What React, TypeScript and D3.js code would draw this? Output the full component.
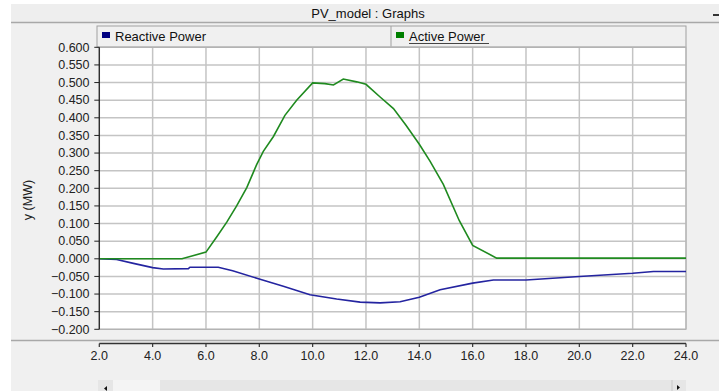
import React from 'react';
import * as d3 from 'd3';

// time axis (h) and power readings (MW)
const activeT = [2.0, 5.1, 6.0, 6.4, 6.78, 7.15, 7.53, 7.9, 8.15, 8.53, 8.96, 9.4, 10.0, 10.46, 10.78, 11.15, 11.65, 12.0, 12.53, 13.03, 13.5, 14.0, 14.4, 14.9, 15.5, 16.0, 16.9, 24.0];
const activeP = [0.0, 0.0, 0.019, 0.062, 0.104, 0.15, 0.202, 0.267, 0.305, 0.347, 0.407, 0.45, 0.499, 0.497, 0.493, 0.51, 0.502, 0.495, 0.459, 0.426, 0.379, 0.325, 0.277, 0.211, 0.108, 0.038, 0.002, 0.002];

const reactiveT = [2.0, 2.65, 3.28, 4.0, 4.4, 5.34, 5.4, 6.46, 7.0, 8.03, 8.9, 9.9, 10.9, 11.78, 12.53, 13.28, 14.0, 14.78, 16.0, 16.78, 18.0, 20.0, 22.0, 22.78, 24.0];
const reactiveP = [0.0, -0.002, -0.013, -0.025, -0.029, -0.028, -0.024, -0.024, -0.034, -0.058, -0.078, -0.102, -0.114, -0.123, -0.125, -0.122, -0.109, -0.088, -0.069, -0.06, -0.06, -0.05, -0.041, -0.036, -0.036];

const xTicks = d3.range(2, 24.001, 2);
const yTicks = d3.range(-0.2, 0.6001, 0.05);
const legendNames = ['Reactive Power', 'Active Power'];

const font = '"Liberation Sans", Arial, sans-serif';

export default function App() {
  const W = 719;
  const H = 391;
  const plot = { left: 99.3, right: 686, top: 47.3, bottom: 329.3 };

  const x = d3.scaleLinear().domain([2, 24]).range([plot.left, plot.right]);
  const y = d3.scaleLinear().domain([-0.2, 0.6]).range([plot.bottom, plot.top]);

  const line = d3
    .line<[number, number]>()
    .x((d) => x(d[0]))
    .y((d) => y(d[1]));

  const active = activeT.map((t, i) => [t, activeP[i]] as [number, number]);
  const reactive = reactiveT.map((t, i) => [t, reactiveP[i]] as [number, number]);

  const axisY = 343.5;

  return (
    <>
      <style>{'body{margin:0;overflow:hidden}'}</style>
      <svg width={W} height={H} style={{ display: 'block', fontFamily: font }}>
        <rect width={W} height={H} fill="#ffffff" />
        {/* panel */}
        <rect x={11} y={4} width={W - 11} height={H - 4} fill="#f0f0f0" />
        {/* title bar */}
        <rect x={11} y={4} width={W - 11} height={18} fill="#eeeeee" />
        <line x1={11} x2={W} y1={22.5} y2={22.5} stroke="#a8a8a8" strokeWidth={1.5} />
        <text x={368} y={17.5} textAnchor="middle" fontSize={13} fill="#111">
          PV_model : Graphs
        </text>
        <line x1={713} x2={719} y1={15} y2={15} stroke="#333" strokeWidth={2} />

        {/* legend band */}
        <rect x={97} y={26} width={589} height={21} fill="#f0f0f0" stroke="#a0a0a0" strokeWidth={1} />
        <line x1={391} x2={391} y1={26} y2={47} stroke="#a0a0a0" />
        <rect x={102} y={32} width={8} height={6} fill="#000080" />
        <text x={115} y={40.5} fontSize={13} fill="#111">
          {legendNames[0]}
        </text>
        <rect x={396} y={32} width={8} height={6} fill="#008000" />
        <text x={409} y={40.5} fontSize={13} fill="#111">
          {legendNames[1]}
        </text>
        <line x1={409} x2={489} y1={43.5} y2={43.5} stroke="#444" strokeWidth={1.2} />

        {/* plot area */}
        <rect
          x={plot.left}
          y={plot.top}
          width={plot.right - plot.left}
          height={plot.bottom - plot.top}
          fill="#ffffff"
        />
        {yTicks.map((t, i) => (
          <line key={'gy' + i} x1={plot.left} x2={plot.right} y1={y(t)} y2={y(t)} stroke="#c4c4c4" strokeWidth={1.5} />
        ))}
        {xTicks.map((t, i) => (
          <line key={'gx' + i} x1={x(t)} x2={x(t)} y1={plot.top} y2={plot.bottom} stroke="#c4c4c4" strokeWidth={1.5} />
        ))}
        <rect
          x={plot.left}
          y={plot.top}
          width={plot.right - plot.left}
          height={plot.bottom - plot.top}
          fill="none"
          stroke="#b0b0b0"
          strokeWidth={1}
        />

        {/* series */}
        <path d={line(reactive) || ''} fill="none" stroke="#2424a0" strokeWidth={1.6} />
        <path d={line(active) || ''} fill="none" stroke="#1f8a1f" strokeWidth={1.6} />

        {/* y axis */}
        <line x1={plot.left} x2={plot.left} y1={plot.top} y2={plot.bottom} stroke="#222" strokeWidth={1.2} />
        {yTicks.map((t, i) => (
          <g key={'ty' + i}>
            <line x1={plot.left - 5} x2={plot.left} y1={y(t)} y2={y(t)} stroke="#222" />
            <text x={89.5} y={y(t) + 4.3} textAnchor="end" fontSize={12.5} fill="#222">
              {d3.format('.3f')(Math.abs(t) < 1e-9 ? 0 : t)}
            </text>
          </g>
        ))}
        <text
          transform="translate(32,200) rotate(-90)"
          textAnchor="middle"
          fontSize={12.5}
          fill="#222"
        >
          y (MW)
        </text>

        {/* x axis */}
        <line x1={11} x2={W} y1={340.5} y2={340.5} stroke="#a8a8a8" strokeWidth={1.5} />
        <line x1={plot.left} x2={plot.right} y1={axisY} y2={axisY} stroke="#333" strokeWidth={1.5} />
        {xTicks.map((t, i) => (
          <g key={'tx' + i}>
            <line x1={x(t)} x2={x(t)} y1={axisY} y2={axisY + 3.5} stroke="#333" strokeWidth={1.2} />
            <text x={x(t)} y={360} textAnchor="middle" fontSize={12.5} fill="#222">
              {t.toFixed(1)}
            </text>
          </g>
        ))}

        {/* scrollbar */}
        <rect x={98} y={380} width={588} height={12} fill="#e6e6e6" />
        <rect x={113} y={380} width={47} height={12} fill="#f4f4f4" />
        <line x1={672} x2={672} y1={380} y2={391} stroke="#c8c8c8" />
        <path d="M107,386 L104,388.5 L107,391 Z" fill="#111" />
        <path d="M677,385 L680,387.5 L677,390 Z" fill="#111" />
      </svg>
    </>
  );
}
